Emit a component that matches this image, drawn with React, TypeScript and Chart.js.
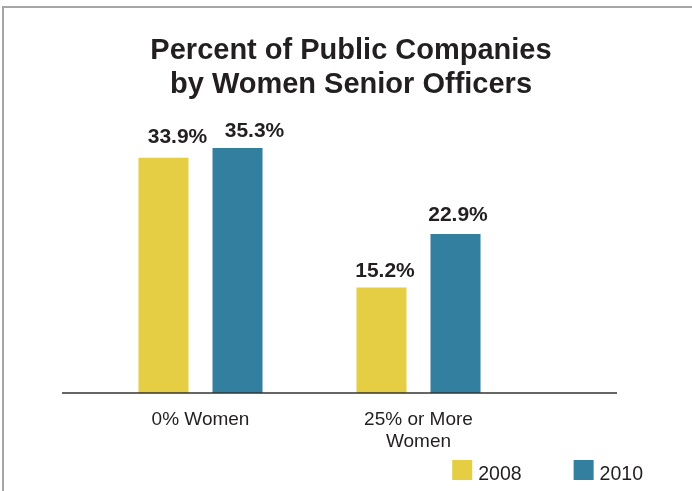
import React, { useEffect, useRef } from 'react';
import { Chart, registerables } from 'chart.js';

Chart.register(...registerables);

// ---- data ----
const TITLE_LINES = ['Percent of Public Companies', 'by Women Senior Officers'];
const CATEGORIES = [['0% Women'], ['25% or More', 'Women']];
const SERIES_LABELS = ['2008', '2010'];
const VALUES_2008 = [33.9, 15.2];
const VALUES_2010 = [35.3, 22.9];
const Y_MIN = 0;
const Y_MAX = 40;

// ---- style ----
const COLORS = ['#E5CD44', '#337FA0'];
const TEXT = '#231F20';
const FONT = '"Liberation Sans", Arial, Helvetica, sans-serif';
// per dataset, per category: [horizontal nudge, gap above bar]
const LABEL_NUDGE = [
  [[14, 15], [3.5, 11]],
  [[17, 11], [2.5, 13]],
];

const decorPlugin = {
  id: 'decor',
  beforeDraw(chart: any) {
    const ctx = chart.ctx;
    ctx.save();
    ctx.strokeStyle = '#a6a6a6';
    ctx.lineWidth = 2;
    ctx.beginPath();
    ctx.moveTo(3, chart.height);
    ctx.lineTo(3, 7);
    ctx.lineTo(chart.width, 7);
    ctx.stroke();
    ctx.restore();
  },
  afterDatasetsDraw(chart: any) {
    const ctx = chart.ctx;
    const { chartArea, scales } = chart;
    const y0 = scales.y.getPixelForValue(0);
    ctx.save();
    // baseline
    ctx.strokeStyle = '#333333';
    ctx.lineWidth = 1.5;
    ctx.beginPath();
    ctx.moveTo(chartArea.left - 29.5, y0);
    ctx.lineTo(chartArea.right + 89.5, y0);
    ctx.stroke();

    // value labels
    ctx.font = `bold 21px ${FONT}`;
    ctx.fillStyle = TEXT;
    ctx.textAlign = 'center';
    ctx.textBaseline = 'alphabetic';
    chart.data.datasets.forEach((ds: any, di: number) => {
      const meta = chart.getDatasetMeta(di);
      meta.data.forEach((bar: any, i: number) => {
        const [dx, gap] = LABEL_NUDGE[di][i];
        ctx.fillText(`${Number(ds.data[i]).toFixed(1)}%`, bar.x + dx, bar.y - gap);
      });
    });

    // legend
    ctx.font = `19.5px ${FONT}`;
    ctx.textAlign = 'left';
    const boxTop = chart.height - 31;
    let x = chart.width - 49;
    const dss = chart.data.datasets;
    for (let di = dss.length - 1; di >= 0; di--) {
      const text = dss[di].label;
      const w = ctx.measureText(text).width;
      const tx = x - w;
      ctx.fillStyle = TEXT;
      ctx.fillText(text, tx, boxTop + 19.5);
      const bx = tx - 6 - 20;
      ctx.fillStyle = dss[di].backgroundColor;
      ctx.fillRect(bx, boxTop, 20, 20);
      x = bx - 52;
    }
    ctx.restore();
  },
};

export default function App() {
  const ref = useRef<HTMLCanvasElement | null>(null);

  useEffect(() => {
    if (!ref.current) return;
    const chart = new Chart(ref.current, {
      type: 'bar',
      data: {
        labels: CATEGORIES,
        datasets: [
          {
            label: SERIES_LABELS[0],
            data: VALUES_2008,
            backgroundColor: COLORS[0],
            barPercentage: 0.676,
            categoryPercentage: 0.679,
          },
          {
            label: SERIES_LABELS[1],
            data: VALUES_2010,
            backgroundColor: COLORS[1],
            barPercentage: 0.676,
            categoryPercentage: 0.679,
          },
        ],
      },
      options: {
        responsive: false,
        animation: false,
        layout: { padding: { left: 10, right: 0, top: 0, bottom: 0 } },
        plugins: {
          legend: { display: false },
          tooltip: { enabled: false },
          title: {
            display: true,
            text: TITLE_LINES,
            color: TEXT,
            font: { family: FONT, size: 29, weight: 'bold', lineHeight: '34px' },
            padding: { top: 34, bottom: 13.4 },
          },
        },
        scales: {
          x: {
            grid: { display: false },
            border: { display: false },
            ticks: {
              color: TEXT,
              font: { family: FONT, size: 19, lineHeight: '22px' },
              padding: 8,
              maxRotation: 0,
            },
            afterFit: (s: any) => {
              s.height = 98;
            },
          },
          y: {
            min: Y_MIN,
            max: Y_MAX,
            grid: { display: false },
            border: { display: false },
            ticks: { display: false },
            afterFit: (s: any) => {
              s.width = 81.5;
            },
          },
          y2: {
            type: 'linear',
            position: 'right',
            grid: { display: false },
            border: { display: false },
            ticks: { display: false },
            afterFit: (s: any) => {
              s.width = 164.5;
            },
          },
        },
      } as any,
      plugins: [decorPlugin],
    });
    return () => chart.destroy();
  }, []);

  return (
    <div style={{ position: 'fixed', left: 0, top: 0, width: 692, height: 491, background: '#fff' }}>
      <canvas ref={ref} width={692} height={491} />
    </div>
  );
}
